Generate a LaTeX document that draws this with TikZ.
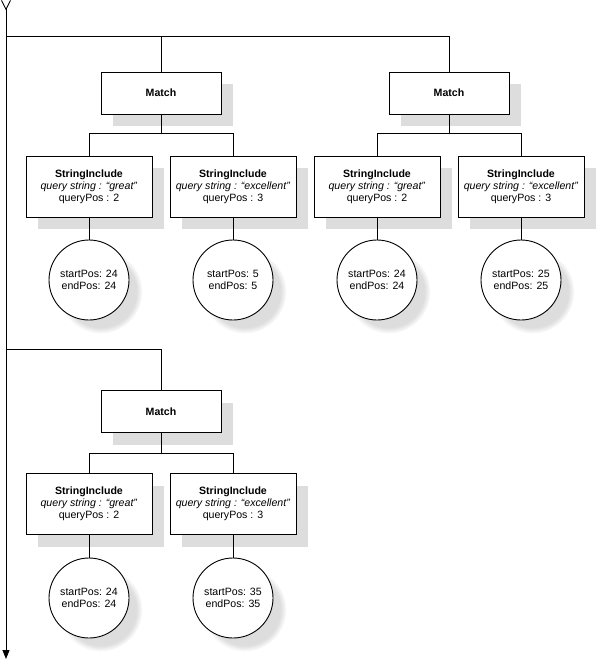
\documentclass[tikz,border=0pt]{standalone}
\usepackage{fontspec}
\setmainfont{Liberation Sans}
\usetikzlibrary{arrows.meta,shadows,fadings}

\definecolor{shadowgray}{RGB}{221,221,221}

\begin{document}
\begin{tikzpicture}[x=1pt,y=-1pt,line width=0.9pt,
	every node/.style={font=\fontsize{10.6}{12}\selectfont},
	matchbox/.style={draw,fill=white,minimum width=120pt,minimum height=42pt,inner sep=0pt,font=\fontsize{10.6}{12}\selectfont\bfseries,
		drop shadow={shadow xshift=12pt,shadow yshift=-12pt,fill=shadowgray,opacity=1}},
	incbox/.style={draw,fill=white,minimum width=126pt,minimum height=61pt,inner sep=0pt,align=center,
		drop shadow={shadow xshift=12pt,shadow yshift=-12pt,fill=shadowgray,opacity=1}},
	posnode/.style={draw,circle,fill=white,minimum size=80pt,inner sep=0pt,align=center,
		circular drop shadow={shadow xshift=11pt,shadow yshift=-11pt,shadow scale=1.05,fill=shadowgray,opacity=1}}]
	\useasboundingbox (0,0) rectangle (597,661);

	\coordinate (top) at (6,0);
	\coordinate (bot) at (6,659);
	\coordinate (b1) at (6,36);
	\coordinate (b2) at (6,349);
	\draw[{Straight Barb[reversed,length=9pt,width=9pt]}-{Triangle[length=9pt,width=7pt]}] (top) -- (bot);

	% first match
	\node[matchbox] (m1) at (161,93) {Match};
	\node[incbox] (s11) at (89,186.5) {\textbf{StringInclude}\\ \textit{query string : “great”}\\ queryPos : 2};
	\node[incbox] (s12) at (233,186.5) {\textbf{StringInclude}\\ \textit{query string : “excellent”}\\ queryPos : 3};
	\node[posnode] (c11) at (89,280) {startPos: 24\\ endPos: 24};
	\node[posnode] (c12) at (233,280) {startPos: 5\\ endPos: 5};

	% second match
	\node[matchbox] (m2) at (449,93) {Match};
	\node[incbox] (s21) at (377,186.5) {\textbf{StringInclude}\\ \textit{query string : “great”}\\ queryPos : 2};
	\node[incbox] (s22) at (521,186.5) {\textbf{StringInclude}\\ \textit{query string : “excellent”}\\ queryPos : 3};
	\node[posnode] (c21) at (377,280) {startPos: 24\\ endPos: 24};
	\node[posnode] (c22) at (521,280) {startPos: 25\\ endPos: 25};

	% third match
	\node[matchbox] (m3) at (161,411.5) {Match};
	\node[incbox] (s31) at (89,504) {\textbf{StringInclude}\\ \textit{query string : “great”}\\ queryPos : 2};
	\node[incbox] (s32) at (233,504) {\textbf{StringInclude}\\ \textit{query string : “excellent”}\\ queryPos : 3};
	\node[posnode] (c31) at (89,598) {startPos: 24\\ endPos: 24};
	\node[posnode] (c32) at (233,598) {startPos: 35\\ endPos: 35};

	\draw (b1) -| (m2.north);
	\draw (m1.north) -- (m1.north |- b1);
	\draw (b2) -| (m3.north);

	\draw (m1.south) -- ++(0,19) coordinate (j1);
	\draw (s11.north) |- (j1) -| (s12.north);
	\draw (m2.south) -- ++(0,19) coordinate (j2);
	\draw (s21.north) |- (j2) -| (s22.north);
	\draw (m3.south) -- ++(0,20) coordinate (j3);
	\draw (s31.north) |- (j3) -| (s32.north);

	\draw (s11) -- (c11);
	\draw (s12) -- (c12);
	\draw (s21) -- (c21);
	\draw (s22) -- (c22);
	\draw (s31) -- (c31);
	\draw (s32) -- (c32);
\end{tikzpicture}
\end{document}
